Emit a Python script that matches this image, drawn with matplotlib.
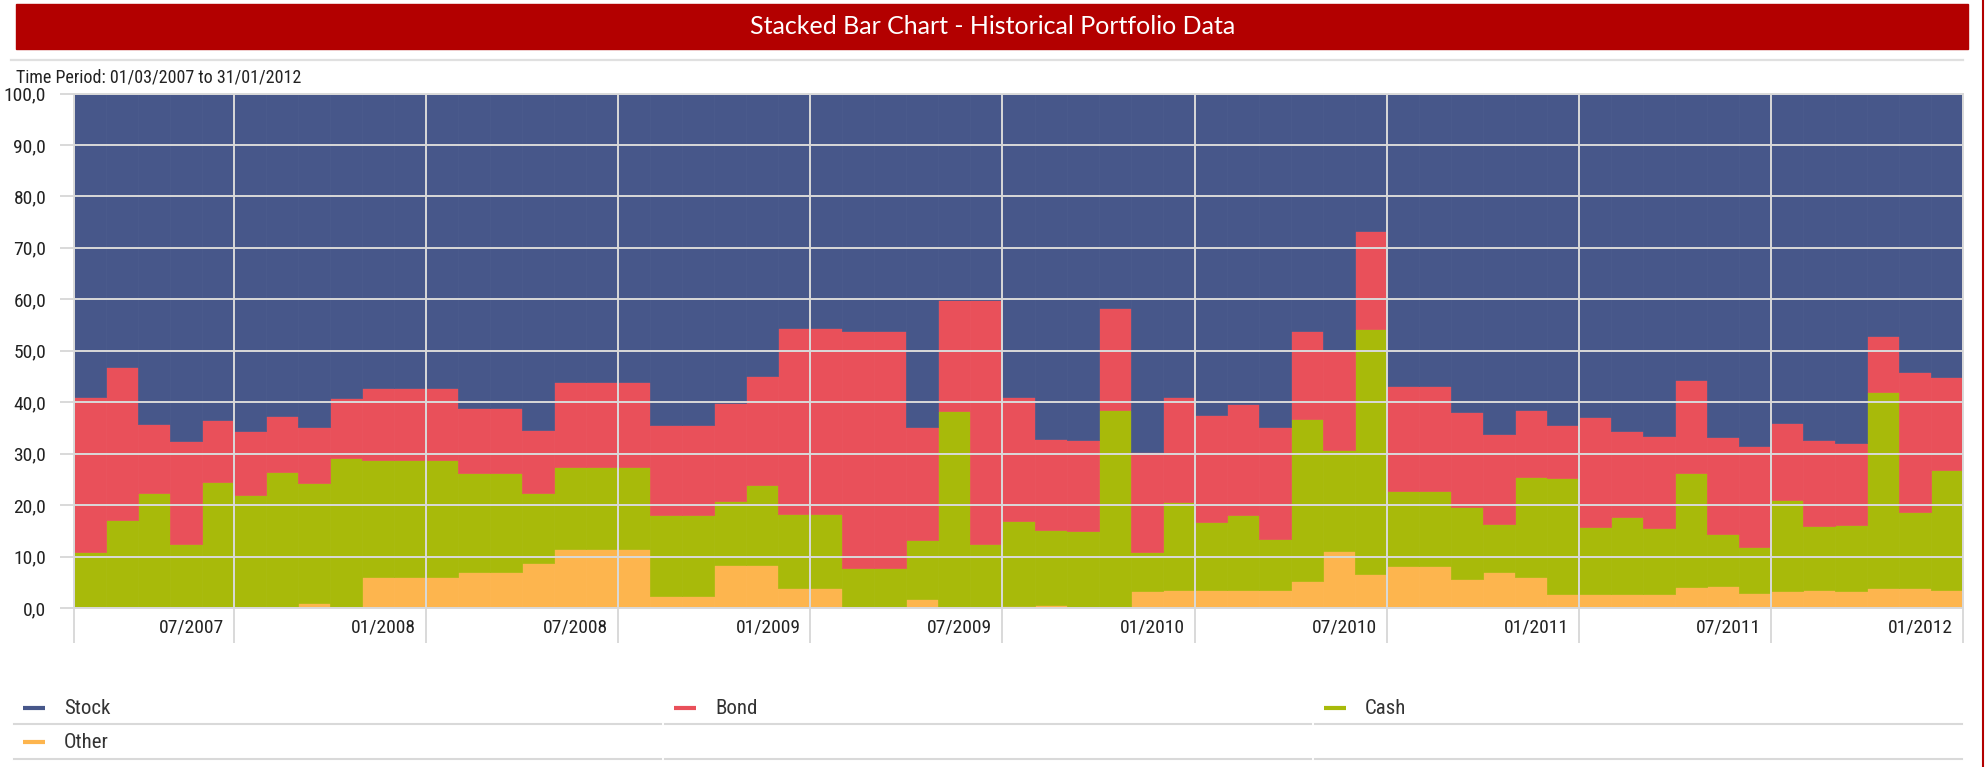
import numpy as np
import pandas as pd
from matplotlib import pyplot as plt
from matplotlib import font_manager
from matplotlib.lines import Line2D
from matplotlib.patches import Rectangle

# monthly categories 03/2007 .. 01/2012
months = pd.date_range('2007-03-01', '2012-01-01', freq='MS')
tick_labels = ['07/2007', '01/2008', '07/2008', '01/2009', '07/2009',
               '01/2010', '07/2010', '01/2011', '07/2011', '01/2012']

stock = [59.0, 53.1, 64.2, 67.6, 63.4, 65.6, 62.6, 64.9, 59.2, 57.2,
         57.2, 57.2, 61.2, 61.2, 65.5, 56.0, 56.0, 56.0, 64.4, 64.4,
         60.1, 55.0, 45.6, 45.6, 46.2, 46.2, 64.8, 40.2, 40.2, 59.0,
         67.2, 67.3, 41.6, 69.7, 59.0, 62.4, 60.3, 64.9, 46.1, 49.9,
         26.7, 56.9, 56.9, 62.0, 66.2, 61.5, 64.5, 62.9, 65.6, 66.5,
         55.7, 66.7, 68.5, 64.0, 67.4, 68.0, 47.2, 54.2, 55.1]
bond = [30.1, 29.7, 13.4, 20.0, 12.2, 12.4, 11.0, 10.9, 11.6, 14.0,
        14.0, 14.0, 12.5, 12.5, 12.2, 16.6, 16.6, 16.6, 17.6, 17.6,
        19.1, 21.0, 36.2, 36.2, 46.1, 46.1, 21.9, 21.5, 47.3, 24.1,
        17.7, 17.7, 19.9, 19.5, 20.4, 20.8, 21.7, 21.6, 17.1, 19.3,
        19.0, 20.3, 20.3, 18.3, 17.5, 13.0, 10.3, 21.4, 16.7, 17.9,
        18.0, 18.9, 19.6, 15.1, 16.6, 15.9, 10.8, 27.2, 18.0]
cash = [10.9, 17.2, 22.4, 12.4, 24.4, 22.0, 26.4, 23.2, 29.2, 22.8,
        22.8, 22.8, 19.4, 19.4, 13.5, 16.0, 16.0, 16.0, 15.6, 15.6,
        12.4, 15.7, 14.4, 14.4, 7.7, 7.7, 11.5, 38.3, 12.5, 16.6,
        14.5, 15.0, 38.5, 7.5, 17.1, 13.3, 14.5, 10.0, 31.5, 19.7,
        47.7, 14.6, 14.6, 14.0, 9.4, 19.5, 22.4, 13.0, 15.0, 12.9,
        22.2, 10.1, 8.9, 17.6, 12.5, 12.7, 38.2, 14.8, 23.4]
other = [0.0, 0.0, 0.0, 0.0, 0.0, 0.0, 0.0, 1.0, 0.0, 6.0,
         6.0, 6.0, 6.9, 6.9, 8.8, 11.4, 11.4, 11.4, 2.4, 2.4,
         8.4, 8.3, 3.8, 3.8, 0.0, 0.0, 1.8, 0.0, 0.0, 0.3,
         0.6, 0.0, 0.0, 3.3, 3.5, 3.5, 3.5, 3.5, 5.3, 11.1,
         6.6, 8.2, 8.2, 5.7, 6.9, 6.0, 2.8, 2.7, 2.7, 2.7,
         4.1, 4.3, 3.0, 3.3, 3.5, 3.4, 3.8, 3.8, 3.5]

names = ['Stock', 'Bond', 'Cash', 'Other']
colors = {'Stock': '#47578a', 'Bond': '#e9505a', 'Cash': '#a8ba0a', 'Other': '#fdb54e'}
RED = '#b30000'
GRID = '#d9d9d9'
TXT = '#222222'

#------------------------------------------------------------
# pick a condensed face if one is installed, else a narrow-ish sans a bit smaller
ttf = font_manager.fontManager.ttflist
fam_names = {f.name for f in ttf}
narrow, scale = None, 1.0
for n in ['Roboto Condensed', 'Liberation Sans Narrow', 'Noto Sans Condensed',
          'Arial Narrow', 'DejaVu Sans Condensed']:
    if n in fam_names:
        narrow = dict(family=n)
        break
if narrow is None:
    for n in ['Roboto', 'Noto Sans', 'DejaVu Sans', 'Open Sans']:
        if any(f.name == n and 'condensed' in str(f.stretch) for f in ttf):
            narrow = dict(family=n, stretch='condensed')
            break
if narrow is None:
    narrow = dict(family='Roboto')
    scale = 0.83

W, H = 1986, 767
fig = plt.figure(figsize=(W / 100, H / 100), dpi=100)

#------------------------------------------------------------
# header
fig.patches.append(Rectangle((16 / W, 1 - 49 / H), 1952 / W, 45 / H,
                             transform=fig.transFigure, color=RED, zorder=0))
fig.text(993 / W, 1 - 27 / H, 'Stacked Bar Chart - Historical Portfolio Data',
         color='white', ha='center', va='center', family='Lato', fontsize=18)
fig.add_artist(Line2D([1983 / W, 1983 / W], [0, 1], color=RED, lw=1.5))
fig.add_artist(Line2D([11 / W, 1963 / W], [1 - 60 / H] * 2, color='#e0e0e0', lw=1.6))
fig.text(16 / W, 1 - 77 / H, 'Time Period: 01/03/2007 to 31/01/2012',
         ha='left', va='center', fontsize=13 * scale, color=TXT, **narrow)

#------------------------------------------------------------
# stacked bars
ax = fig.add_axes([74 / W, 1 - 608 / H, 1889 / W, 514.5 / H])
x = np.arange(len(months))
series = {'Stock': stock, 'Bond': bond, 'Cash': cash, 'Other': other}
bottom = np.zeros(len(months))
for name in ['Other', 'Cash', 'Bond', 'Stock']:
    vals = np.array(series[name])
    ax.bar(x, vals, width=1.0, bottom=bottom, color=colors[name],
           edgecolor=colors[name], linewidth=0.5)
    bottom += vals

ax.set_xlim(-0.5, len(months) - 0.5)
ax.set_ylim(0, 100)
ax.set_axisbelow(False)

label_month = [pd.Timestamp(year=int(t[3:]), month=int(t[:2]), day=1) for t in tick_labels]
label_pos = [list(months).index(m) + 0.5 for m in label_month]
ax.set_xticks([-0.5] + label_pos)
ax.set_xticklabels([])
ax.tick_params(axis='x', length=25, width=1.4, color=GRID, direction='out')
for pos, lab in zip(label_pos, tick_labels):
    ax.annotate(lab, xy=(pos, 0), xycoords=('data', 'axes fraction'),
                xytext=(-10, -20), textcoords='offset pixels',
                ha='right', va='center', fontsize=14 * scale, color=TXT, **narrow)

yt = np.arange(0, 101, 10)
ax.set_yticks(yt)
ax.set_yticklabels([f'{v:.1f}'.replace('.', ',') for v in yt],
                   fontsize=14 * scale, color=TXT, **narrow)
ax.tick_params(axis='y', length=10, width=1.4, color=GRID, pad=10)
ax.grid(True, color=GRID, lw=1.4)
for sp in ax.spines.values():
    sp.set_color(GRID)
    sp.set_linewidth(1.4)

#------------------------------------------------------------
# legend rows
cols = [(14, 661), (665, 1311), (1315, 1962)]
rows = [708, 742]
lines_y = [724, 759]
for y in lines_y:
    for c0, c1 in cols:
        fig.add_artist(Line2D([c0 / W, c1 / W], [1 - y / H] * 2, color=GRID, lw=1.5))
slots = [(0, 0), (1, 0), (2, 0), (0, 1)]
for name, (ci, ri) in zip(names, slots):
    c0 = cols[ci][0]
    y = 1 - rows[ri] / H
    fig.add_artist(Line2D([(c0 + 9) / W, (c0 + 31) / W], [y, y],
                          color=colors[name], lw=3, solid_capstyle='butt'))
    fig.text((c0 + 50) / W, y, name, ha='left', va='center', fontsize=15 * scale,
             color='#333333', **narrow)

fig.savefig('out.png', dpi=100)
